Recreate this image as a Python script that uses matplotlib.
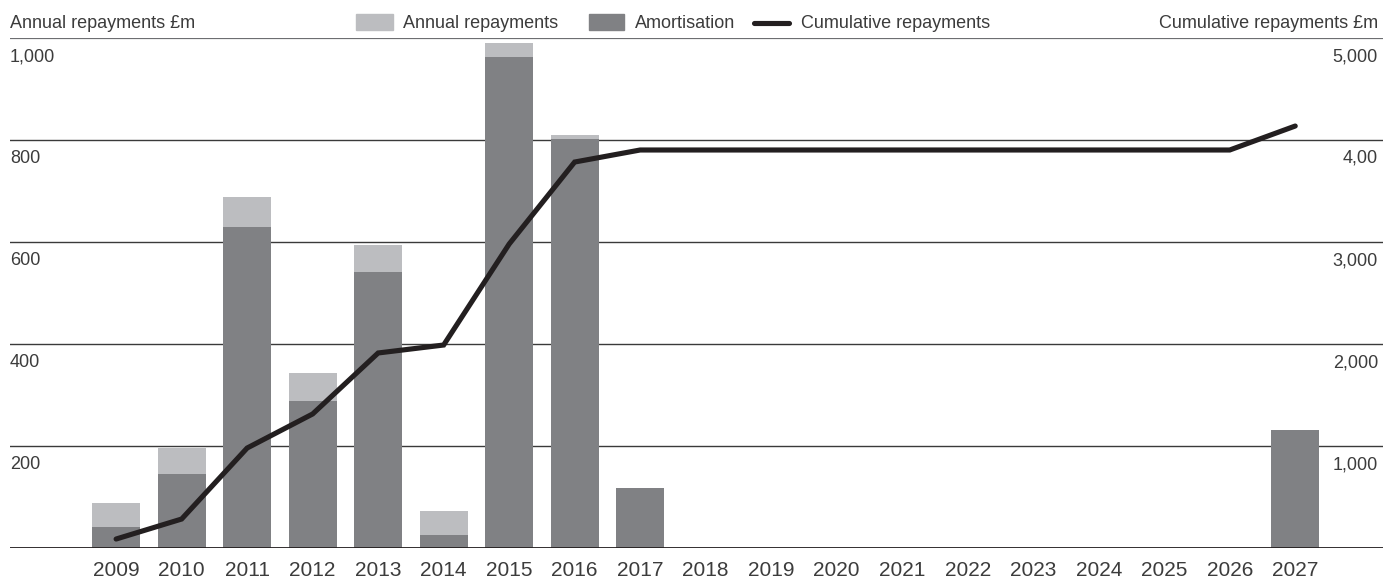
import matplotlib
matplotlib.use("Agg")
import matplotlib.pyplot as plt
from matplotlib.patches import Rectangle
from matplotlib.lines import Line2D

plt.rcParams['font.family'] = ['Liberation Sans', 'DejaVu Sans']

# Repayment profile, £m
years = list(range(2009, 2028))
amortisation = [41, 146, 629, 288, 541, 25, 963, 802, 118,
                0, 0, 0, 0, 0, 0, 0, 0, 0, 231]
annual_total = [88, 196, 688, 343, 594, 73, 990, 810, 118,
                0, 0, 0, 0, 0, 0, 0, 0, 0, 231]
cumulative = [88, 284, 980, 1314, 1912, 1990, 2980, 3784, 3902,
              3902, 3902, 3902, 3902, 3902, 3902, 3902, 3902, 3902, 4137]

left_ticks = [200, 400, 600, 800, 1000]
left_labels = ['200', '400', '600', '800', '1,000']
right_ticks = [1000, 2000, 3000, 4000, 5000]
right_labels = ['1,000', '2,000', '3,000', '4,00', '5,000']

light = '#bcbdc0'
dark = '#808184'
ink = '#231f20'
text_col = '#3c3c3c'

W, H = 1383, 579
fig = plt.figure(figsize=(W / 100, H / 100), dpi=100)
ax = fig.add_axes([10 / W, (H - 548) / H, (W - 10) / W, (548 - 38) / H])

# gridlines sit underneath the bars
for v in left_ticks[:-1]:
    ax.axhline(v, color='#3a3a3a', lw=1.0, zorder=0)
ax.axhline(1000, color='#6d6e71', lw=1.6, zorder=0)
ax.axhline(0, color=ink, lw=1.3, zorder=3)

ax.bar(years, annual_total, width=0.73, color=light, zorder=1)
ax.bar(years, amortisation, width=0.73, color=dark, zorder=2)

ax.set_xlim(2007.38, 2028.34)
ax.set_ylim(0, 1000)
ax.set_xticks(years)
ax.set_xticklabels([str(y) for y in years], fontsize=15, color=text_col)
ax.tick_params(axis='x', length=0, pad=9)
ax.set_yticks([])
for s in ax.spines.values():
    s.set_visible(False)

for v, lab in zip(left_ticks, left_labels):
    ax.annotate(lab, xy=(0, v), xycoords=('axes fraction', 'data'),
                xytext=(0, -10), textcoords='offset pixels',
                ha='left', va='top', fontsize=13, color=text_col)

ax2 = ax.twinx()
ax2.set_ylim(0, 5000)
ax2.set_yticks([])
for s in ax2.spines.values():
    s.set_visible(False)
ax2.plot(years, cumulative, color=ink, lw=3.7, solid_capstyle='round',
         solid_joinstyle='miter', zorder=4)

for v, lab in zip(right_ticks, right_labels):
    ax2.annotate(lab, xy=(1, v), xycoords=('axes fraction', 'data'),
                 xytext=(-5, -10), textcoords='offset pixels',
                 ha='right', va='top', fontsize=13, color=text_col)

# axis titles above the top rule
fig.text(10 / W, 1 - 23 / H, 'Annual repayments £m', ha='left', va='center',
         fontsize=13, color=text_col)
fig.text(1378 / W, 1 - 23 / H, 'Cumulative repayments £m', ha='right',
         va='center', fontsize=13, color=text_col)

# legend row
def fx(px):
    return px / W

def fy(py):
    return 1 - py / H

fig.patches.append(Rectangle((fx(356), fy(30)), 37 / W, 16 / H,
                             transform=fig.transFigure, color=light))
fig.text(fx(403), fy(23), 'Annual repayments', ha='left', va='center',
         fontsize=13, color=text_col)
fig.patches.append(Rectangle((fx(589), fy(30)), 35 / W, 16 / H,
                             transform=fig.transFigure, color=dark))
fig.text(fx(635), fy(23), 'Amortisation', ha='left', va='center',
         fontsize=13, color=text_col)
fig.lines.append(Line2D([fx(754), fx(789)], [fy(23), fy(23)],
                        transform=fig.transFigure, color=ink, lw=3.7,
                        solid_capstyle='round'))
fig.text(fx(801), fy(23), 'Cumulative repayments', ha='left', va='center',
         fontsize=13, color=text_col)

fig.savefig('out.png', dpi=100)
